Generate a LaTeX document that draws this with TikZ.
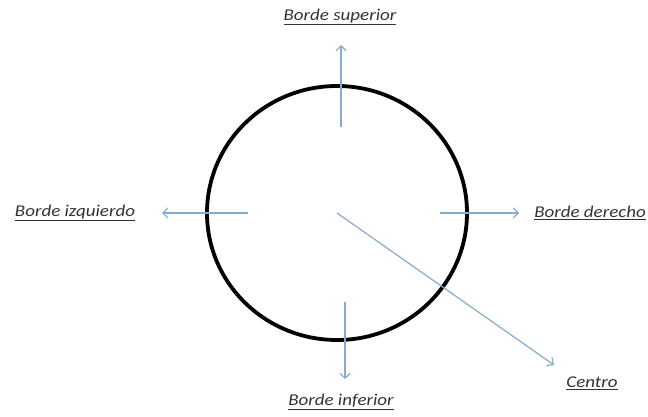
\documentclass[tikz,border=0pt]{standalone}
\usepackage{fontspec}
\usetikzlibrary{arrows.meta}
\setmainfont{Carlito}[FakeStretch=1.15]
\begin{document}
\begin{tikzpicture}[x=1pt, y=-1pt, >={Straight Barb[length=5pt,width=10pt]},
  every node/.style={font=\fontsize{16.5}{18}\selectfont\itshape, text=black!80},
  flecha/.style={->, line width=1.2pt, color={rgb,255:red,135;green,170;blue,205}}]
  \useasboundingbox (0,0) rectangle (648,417);
  \draw[line width=3.8pt] (337,213) ellipse [x radius=130, y radius=127];
  \coordinate (circ) at (337,213);
  \node (sup) at (340,17) {\underline{Borde superior}};
  \node (izq) at (75,213) {\underline{Borde izquierdo}};
  \node (der) at (590,213) {\underline{Borde derecho}};
  \node (inf) at (341,402) {\underline{Borde inferior}};
  \node (cen) at (592,383) {\underline{Centro}};
  \coordinate (a1) at (341,127);
  \coordinate (b1) at (341,45);
  \coordinate (a2) at (248,213);
  \coordinate (b2) at (162,213);
  \coordinate (a3) at (440,213);
  \coordinate (b3) at (519,213);
  \coordinate (a4) at (345,302);
  \coordinate (b4) at (345,379);
  \coordinate (b5) at (554,365);
  \draw[flecha] (a1) -- (b1);
  \draw[flecha] (a2) -- (b2);
  \draw[flecha] (a3) -- (b3);
  \draw[flecha] (a4) -- (b4);
  \draw[flecha] (circ) -- (b5);
\end{tikzpicture}
\end{document}
